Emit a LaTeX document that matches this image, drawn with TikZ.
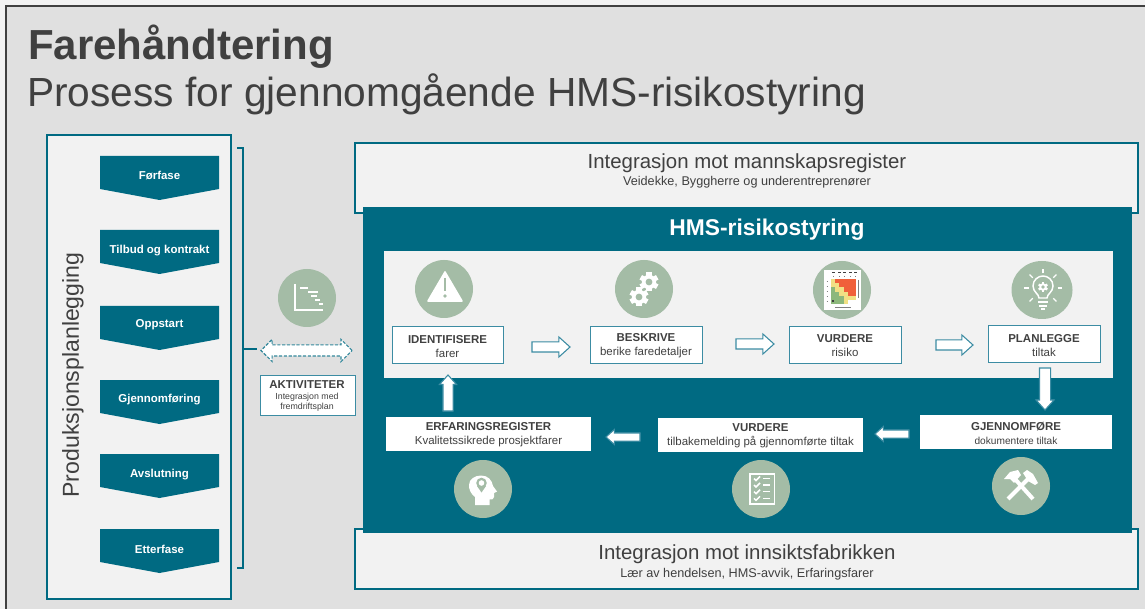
\documentclass[tikz,border=0pt]{standalone}
\usepackage{fontspec}
\setmainfont{Liberation Sans}
\usetikzlibrary{arrows.meta,shapes.arrows,calc}
\definecolor{teal6}{HTML}{006A82}
\definecolor{tealline}{HTML}{3C8CA3}
\definecolor{sage}{HTML}{A4BCA6}
\definecolor{panel}{HTML}{F2F2F2}
\definecolor{bggrey}{HTML}{E0E0E0}
\definecolor{txt}{HTML}{404040}
\tikzset{
  plainbox/.style={draw=tealline,line width=.75pt,fill=white,text=txt,align=center,inner sep=0pt,outer sep=0pt,font=\fontsize{8.6}{10.5}\selectfont},
  whitebox/.style={fill=white,text=txt,align=center,inner sep=0pt,outer sep=0pt,font=\fontsize{8.6}{10.5}\selectfont},
  bandbox/.style={draw=teal6,line width=1.2pt,fill=panel,text=txt,align=center,inner sep=0pt,outer sep=0pt},
  chevlabel/.style={text=white,font=\fontsize{8.6}{10.5}\selectfont\bfseries,inner sep=0pt},
  iconcircle/.style={fill=sage,draw=none},
  arrowshape/.style={shape=single arrow,draw=tealline,fill=white,line width=.8pt,inner sep=0pt,outer sep=0pt,single arrow tip angle=84},
}
\newcommand\pxbox[7]{\node[#6,minimum width={(#4-#2)*0.75pt},minimum height={(#5-#3)*0.75pt}] (#1) at ({(#2+#4)/2},{(#3+#5)/2}) {#7};}
\newcommand\chev[4]{%
  \fill[teal6] (100,#1) -- (219,#1) -- (219,#1+33) -- (159.5,#1+44) -- (100,#1+33) -- cycle;
  \node[chevlabel] (#2) at (159.5,#3) {#4};}
\newcommand\gearicon[3]{%
  \begin{scope}[shift={(#1,#2)}]
  \foreach \a in {0,60,...,300}{\fill[white,rotate=\a] (-#3*0.27,0) rectangle (#3*0.27,#3);}
  \fill[white] (0,0) circle[radius=#3*0.76];
  \fill[sage] (0,0) circle[radius=#3*0.36];
  \end{scope}}
% block arrow between two named coordinates: from, to, body width, head width (px)
\newcommand\blockarrow[4]{%
  \path let \p1=(#1), \p2=(#2), \n1={atan2(\y2-\y1,\x2-\x1)}, \n2={veclen(\x2-\x1,\y2-\y1)} in
    node[arrowshape,anchor=tail,rotate=\n1,minimum height=\n2,text height={#3*0.75pt},text depth=0pt,single arrow head extend={(#4-#3)/2*0.75pt}] at (#1) {};}
\newcommand\lowered[1]{\raisebox{-0.8pt}[\height][\depth]{#1}}
\begin{document}
\begin{tikzpicture}[x=0.75pt,y=-0.75pt]
\useasboundingbox (0,0) rectangle (1145,609);
\fill[panel] (0,0) rectangle (1145,609);
\fill[bggrey] (6,6) rectangle (1145,609);
\draw[txt,line width=.9pt] (6,609) -- (6,6) -- (1145,6);
% title
\node[anchor=base west,inner sep=0pt,text=txt,font=\fontsize{31.5}{36}\selectfont\bfseries] (title) at (28,60) {Farehåndtering};
\node[anchor=base west,inner sep=0pt,text=txt,font=\fontsize{30.5}{34}\selectfont] (subtitle) at (27,107) {Prosess for gjennomgående HMS-risikostyring};
% left panel
\pxbox{plan}{47}{135}{231}{599}{bandbox}{}
\node[rotate=90,text=txt,inner sep=0pt,font=\fontsize{17.3}{20}\selectfont] (plantext) at (73,375) {Produksjonsplanlegging};
\chev{156}{c1}{176}{Førfase}
\chev{230}{c2}{251}{Tilbud og kontrakt}
\chev{306}{c3}{325}{Oppstart}
\chev{380}{c4}{400}{Gjennomføring}
\chev{454}{c5}{475}{Avslutning}
\chev{529}{c6}{549}{Etterfase}
% bracket
\draw[teal6,line width=1.1pt] (237,148) -- (243,148) -- (243,568) -- (237,568);
\draw[teal6,line width=1.5pt] (243,349) -- (257,349);
% activity
\fill[iconcircle] (307,298) circle[radius=29];
\draw[white,line width=1pt] (295,284) -- (295,310) -- (323,310);
\foreach \xa/\xb/\yy in {300/308/288,308/318/292,311/317/296,315/320/300,319/323/304}{\draw[white,line width=1pt] (\xa,\yy) -- (\xb,\yy);}
\node[shape=double arrow,draw=teal6!80!white,dash pattern=on 2.4pt off 1.2pt,fill=white,line width=.8pt,inner sep=0pt,outer sep=0pt,
  minimum height={91*0.75pt},text height={10*0.75pt},text depth=0pt,double arrow head extend={5.5*0.75pt},double arrow tip angle=90] (link) at (306.5,350.5) {};
\pxbox{akt}{260}{375}{355}{415}{plainbox}{}
\node[text=txt,inner sep=0pt,font=\fontsize{8.6}{10}\selectfont\bfseries] (akt1) at (307,385) {AKTIVITETER};
\node[text=txt,inner sep=0pt,align=center,font=\fontsize{6.6}{7.4}\selectfont] (akt2) at (307,402.5) {Integrasjon med\\fremdriftsplan};
% bands
\pxbox{topband}{355}{143}{1138}{213}{bandbox}{}
\node[text=txt,inner sep=0pt,font=\fontsize{15.3}{17}\selectfont] (top1) at (747,163) {Integrasjon mot mannskapsregister};
\node[text=txt,inner sep=0pt,font=\fontsize{9.5}{10}\selectfont] (top2) at (747,182.5) {Veidekke, Byggherre og underentreprenører};
\pxbox{botband}{355}{529}{1138}{589}{bandbox}{}
\node[text=txt,inner sep=0pt,font=\fontsize{15.3}{17}\selectfont] (bot1) at (747,554) {Integrasjon mot innsiktsfabrikken};
\node[text=txt,inner sep=0pt,font=\fontsize{9.5}{10}\selectfont] (bot2) at (747,574.5) {Lær av hendelsen, HMS-avvik, Erfaringsfarer};
\fill[teal6] (363,207) rectangle (1132,533);
\node[text=white,inner sep=0pt,font=\fontsize{17.1}{20}\selectfont\bfseries] (hms) at (767,229.5) {HMS-risikostyring};
\fill[panel] (384,251) rectangle (1113,378);
% icon circles
\fill[iconcircle] (444,289) circle[radius=29];
\fill[iconcircle] (644,289) circle[radius=29];
\fill[iconcircle] (842,290) circle[radius=29];
\fill[iconcircle] (1042,290) ellipse[x radius=30.5,y radius=29];
\fill[iconcircle] (483,489) circle[radius=29];
\fill[iconcircle] (761,489) circle[radius=29];
\fill[iconcircle] (1021,486) circle[radius=29];
% warning icon
\fill[white,draw=white,line width=1.2pt,line join=round] (445,272) -- (428,301) -- (462,301) -- cycle;
\draw[sage,line width=.9pt] (445,278) -- (445,291);
\fill[sage] (445,296) circle[radius=1.8];
% gears
\gearicon{649}{282}{9.5}
\gearicon{639}{297}{9.5}
% risk matrix
\fill[white] (824,270) rectangle (861,310);
\foreach \r/\cols in {0/{Y,R,R,R,R,R},1/{Y,Y,R,R,R,R},2/{G,Y,Y,R,R,R},3/{G,G,Y,Y,R,R},4/{G,G,G,Y,Y,Y},5/{G,G,G,Y,W,W}}{
  \foreach \c [count=\i from 0] in \cols {
    \pgfmathsetmacro\xx{831+4.17*\i}\pgfmathsetmacro\yy{279+4.17*\r}
    \def\tmpcol{Y}\ifx\c\tmpcol\def\fc{F1E084}\fi
    \def\tmpcol{R}\ifx\c\tmpcol\def\fc{F0603A}\fi
    \def\tmpcol{G}\ifx\c\tmpcol\def\fc{8DB87C}\fi
    \def\tmpcol{W}\ifx\c\tmpcol\def\fc{FFFFFF}\fi
    \definecolor{cellc}{HTML}{\fc}
    \fill[cellc] (\xx,\yy) rectangle ++(4.2,4.2);
  }
}
\fill[txt] (832,300) rectangle (834,302);
\foreach \xx in {832,838,843,849,854}{\draw[txt,line width=.6pt] (\xx,272) -- ++(2.5,0);\draw[gray,line width=.3pt] (\xx+1,276) -- ++(0,1);}
\foreach \yy in {281,286,291,296,301}{\draw[gray,line width=.3pt] (826.5,\yy) -- ++(1.5,0);}
\draw[gray,line width=.5pt] (835,307) -- (851,307);
\draw[gray,line width=.7pt] (858.5,280) -- (858.5,298);
% bulb
\begin{scope}[shift={(1043,288)}]
\draw[white,line width=1.1pt] (-4,10) .. controls (-4,6) and (-10,4) .. (-10,-2) .. controls (-10,-8) and (-5,-12) .. (0,-12) .. controls (5,-12) and (10,-8) .. (10,-2) .. controls (10,4) and (4,6) .. (4,10) -- cycle;
\fill[white] (-5,13) rectangle (5,15);
\fill[white] (-4,17) rectangle (4,19);
\fill[white] (-2,20.5) rectangle (2,22.5);
\begin{scope}[shift={(0,-1)}]
\foreach \a in {0,60,...,300}{\fill[white,rotate=\a] (-1.1,0) rectangle (1.1,5);}
\fill[white] (0,0) circle[radius=3.8];
\fill[sage] (0,0) circle[radius=1.8];
\end{scope}
\foreach \a in {0,45,135,180,225,270,315}{\draw[white,line width=.9pt] (\a:14.5) -- (\a:19);}
\end{scope}
% head
\fill[white] (475,505) -- (475,497) .. controls (470,493) and (469,489) .. (469,485) .. controls (469,479) and (475,475.5) .. (481,475.5) .. controls (488,475.5) and (492,480) .. (493,486) -- (497,491.5) -- (494,493) -- (494,497) .. controls (494,499) and (492,500) .. (489.5,499.5) -- (489.5,505) -- cycle;
\fill[sage] (481.5,483) circle[radius=5.3];
\fill[sage] (477,486) -- (486,486) -- (481.5,492.5) -- cycle;
\fill[white] (481.5,483) circle[radius=2.8];
% checklist
\draw[white,line width=1.4pt] (750,474) rectangle (774.5,504);
\foreach \yy in {478.5,485,491.7,498.3}{
  \draw[white,line width=1.1pt] (754,\yy) -- (756,\yy+2) -- (760,\yy-2);
  \draw[white,line width=1.1pt] (763,\yy) -- (770,\yy);}
% hammers
\draw[white,line width=3pt] (1008,499) -- (1029,478);
\draw[white,line width=3pt] (1033,499) -- (1015,479);
\fill[white] (1004,479) -- (1010,472) -- (1018,470) -- (1021,475) -- (1014,483) -- (1010,479) -- cycle;
\fill[white] (1023,473) -- (1027,470) -- (1033,474) -- (1038,483) -- (1035,485) -- (1028,481) -- cycle;
% process boxes
\pxbox{ident}{392}{327}{503}{363}{plainbox}{\lowered{\textbf{IDENTIFISERE}}\\\lowered{farer}}
\pxbox{beskr}{590}{327}{702}{363}{plainbox}{\lowered{\textbf{BESKRIVE}}\\\lowered{berike faredetaljer}}
\pxbox{vurd}{789}{327}{901}{363}{plainbox}{\lowered{\textbf{VURDERE}}\\\lowered{risiko}}
\pxbox{plang}{988}{326}{1100}{362}{plainbox}{\lowered{\textbf{PLANLEGGE}}\\\lowered{tiltak}}
\pxbox{gjenn}{920}{415}{1112}{449}{whitebox}{\lowered{\textbf{GJENNOMFØRE}}\\\lowered{\fontsize{7.6}{10.5}\selectfont dokumentere tiltak}}
\pxbox{vurd2}{658}{418}{863}{452}{whitebox}{\lowered{\textbf{VURDERE}}\\\lowered{tilbakemelding på gjennomførte tiltak}}
\pxbox{erf}{386}{417}{591}{451}{whitebox}{\lowered{\textbf{ERFARINGSREGISTER}}\\\lowered{Kvalitetssikrede prosjektfarer}}
% connectors
\coordinate (a1s) at ($(ident.east)+(29,2)$);  \coordinate (a1e) at ($(beskr.west)+(-20,2)$);
\coordinate (a2s) at ($(beskr.east)+(34,-1)$); \coordinate (a2e) at ($(vurd.west)+(-15,-1)$);
\coordinate (a3s) at ($(vurd.east)+(35,0)$);   \coordinate (a3e) at ($(plang.west)+(-15,1)$);
\coordinate (a4s) at ($(plang.south)+(1,6)$);  \coordinate (a4e) at ($(gjenn.north)+(29,-5)$);
\coordinate (a5s) at ($(gjenn.west)+(-11,2)$); \coordinate (a5e) at ($(vurd2.east)+(12,-1)$);
\coordinate (a6s) at ($(vurd2.west)+(-18,2)$); \coordinate (a6e) at ($(erf.east)+(15,3)$);
\coordinate (a7s) at ($(erf.north)+(-40.5,-6)$); \coordinate (a7e) at ($(ident.south)+(0.5,12)$);
\blockarrow{a1s}{a1e}{9}{19}
\blockarrow{a2s}{a2e}{9}{19}
\blockarrow{a3s}{a3e}{9}{19}
\blockarrow{a4s}{a4e}{10}{17}
\blockarrow{a5s}{a5e}{7}{14}
\blockarrow{a6s}{a6e}{7}{14}
\blockarrow{a7s}{a7e}{9}{16}
\end{tikzpicture}
\end{document}
